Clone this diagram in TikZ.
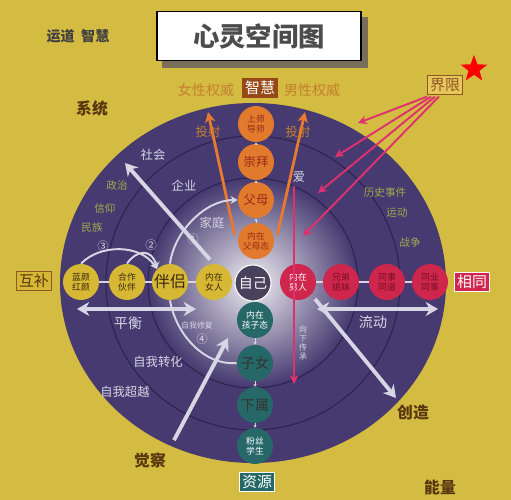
\documentclass[tikz,border=0pt]{standalone}
\usepackage{fontspec}
\newfontfamily\cjk{Noto Sans CJK SC}
\usetikzlibrary{arrows.meta,shapes.geometric}
\definecolor{bgyellow}{RGB}{212,187,66}
\definecolor{plate}{RGB}{70,58,112}
\definecolor{ringline}{RGB}{44,36,78}
\definecolor{paleline}{RGB}{214,214,228}
\definecolor{orbOrange}{RGB}{226,122,46}
\definecolor{orbOrangeText}{RGB}{150,45,25}
\definecolor{orbYellow}{RGB}{214,184,52}
\definecolor{orbYellowText}{RGB}{60,40,15}
\definecolor{orbRed}{RGB}{206,38,76}
\definecolor{orbRedText}{RGB}{120,15,35}
\definecolor{orbTeal}{RGB}{38,104,104}
\definecolor{selfgray}{RGB}{72,66,92}
\definecolor{greentext}{RGB}{160,170,78}
\definecolor{browntext}{RGB}{88,55,15}
\definecolor{tantext}{RGB}{196,128,48}
\definecolor{arrowOrange}{RGB}{232,122,48}
\definecolor{arrowPink}{RGB}{222,50,112}
\definecolor{wisebrown}{RGB}{150,72,22}
\definecolor{limitfill}{RGB}{232,198,92}
\definecolor{limitedge}{RGB}{140,88,38}
\definecolor{shadowgray}{RGB}{120,110,90}

\begin{document}
\begin{tikzpicture}[x=0.02cm, y=-0.02cm,
    every node/.style={font=\cjk},
    orb/.style={circle, minimum size=0.72cm, inner sep=0pt, align=center, font=\cjk\fontsize{5}{5.6}\selectfont},
    upnode/.style={orb, fill=orbOrange, text=orbOrangeText},
    leftnode/.style={orb, fill=orbYellow, text=orbYellowText},
    rightnode/.style={orb, fill=orbRed, text=orbRedText},
    downnode/.style={orb, fill=orbTeal, text=black!80},
    bigword/.style={font=\cjk\fontsize{8}{8}\selectfont},
    outerword/.style={font=\cjk\bfseries\fontsize{9}{9}\selectfont, text=browntext},
    paleword/.style={font=\cjk\fontsize{7}{7}\selectfont, text=paleline},
    greenword/.style={font=\cjk\fontsize{6}{6}\selectfont, text=greentext},
    tagbox/.style={rectangle, inner sep=1.5pt, line width=0.6pt, font=\cjk\fontsize{8.5}{8.5}\selectfont},
    link/.style={draw=paleline, line width=0.4pt, -{Stealth[length=1.5pt,width=1.8pt]}},
    bigarrow/.style={draw=paleline, line width=2.2pt, -{Stealth[length=7pt,width=8pt]}},
    thinarrow/.style={draw=paleline, line width=1.1pt, -{Stealth[length=4pt,width=4.5pt]}},
    orangearrow/.style={draw=arrowOrange, line width=1.6pt, -{Stealth[length=6pt,width=6pt]}},
    pinkarrow/.style={draw=arrowPink, line width=1.1pt, -{Stealth[length=5pt,width=5pt]}}]
    % background
    \useasboundingbox (0,0) rectangle (511,500);
    \fill[bgyellow] (0,0) rectangle (511,500);
    % title
    \node[draw=black, fill=white, line width=0.8pt, minimum width=4.08cm, minimum height=0.98cm,
          font=\cjk\bfseries\fontsize{15}{15}\selectfont, text=black!70] (title) at (259,36) {心灵空间图};
    \fill[shadowgray] ([shift={(6,0)}]title.south west) rectangle ([shift={(6,7)}]title.south east);
    \fill[shadowgray] ([shift={(0,6)}]title.north east) rectangle ([shift={(6,7)}]title.south east);
    \node[font=\cjk\bfseries\fontsize{8}{8}\selectfont, text=black!75] (brand) at (78,36) {运道\ \ 智慧};
    % plate and rings
    \fill[plate] (253,283) ellipse (193 and 180);
    \foreach \r in {62,105,147} \draw[ringline, line width=0.6pt] (253,283) circle (\r);
    \shade[inner color=white!92!plate, outer color=plate] (253,283) circle (104);
    % centre
    \node[orb, fill=selfgray, draw=white!70, line width=0.6pt, text=white, font=\cjk\fontsize{8}{8}\selectfont] (self) at (253,283) {自己};
    % upward: orange
    \node[upnode] (innerparent) at (256,241) {内在\\父母态};
    \node[upnode, font=\cjk\fontsize{7}{7}\selectfont] (parents) at (256,200) {父母};
    \node[upnode, font=\cjk\fontsize{7}{7}\selectfont] (worship) at (256,162) {崇拜};
    \node[upnode] (mentor) at (256,124) {上师\\导师};
    % left: yellow
    \node[leftnode] (innerwoman) at (214,282) {内在\\女人};
    \node[leftnode, font=\cjk\fontsize{9}{9}\selectfont] (partner) at (170,282) {伴侣};
    \node[leftnode] (cooperate) at (127,282) {合作\\伙伴};
    \node[leftnode] (confidant) at (81,282) {蓝颜\\红颜};
    % right: red
    \node[rightnode, text=white] (innerman) at (298,282) {内在\\男人};
    \node[rightnode] (siblings) at (341,282) {兄弟\\姐妹};
    \node[rightnode] (colleague) at (387,282) {同事\\同道};
    \node[rightnode] (peer) at (430,282) {同业\\同事};
    % downward: teal
    \node[downnode, text=white] (innerchild) at (255,320) {内在\\孩子态};
    \node[downnode, font=\cjk\fontsize{8}{8}\selectfont] (children) at (255,363) {子女};
    \node[downnode, font=\cjk\fontsize{8}{8}\selectfont] (subordinate) at (255,405) {下属};
    \node[downnode, text=white!85] (students) at (255,446) {粉丝\\学生};
    % small links
    \draw[link] (innerparent) -- (parents);
    \draw[link] (parents) -- (worship);
    \draw[link] (worship) -- (mentor);
    \draw[link] (innerchild) -- (children);
    \draw[link] (children) -- (subordinate);
    \draw[link] (subordinate) -- (students);
    \draw[paleline, line width=0.6pt] (innerwoman) -- (partner) (partner) -- (cooperate) (cooperate) -- (confidant);
    \draw[paleline, line width=0.6pt] (innerman) -- (siblings) (siblings) -- (colleague) (colleague) -- (peer);
    % tags round the plate
    \node[tagbox, fill=orbYellow, draw=limitedge, text=browntext] (complement) at (34,281) {互补};
    \node[tagbox, fill=orbRed, draw=white!60, text=white] (same) at (472,282) {相同};
    \node[tagbox, fill=wisebrown, text=white] (wisdom) at (260,88) {智慧};
    \node[tagbox, fill=orbTeal, draw=white!70, text=white] (resource) at (257,482) {资源};
    \node[tagbox, fill=limitfill, draw=limitedge, text=limitedge] (limit) at (445,85) {界限};
    \node[star, star points=5, star point ratio=2.4, fill=red, inner sep=0pt, minimum size=0.56cm] (mark) at (474,69) {};
    \node[bigword, text=tantext] (femaleauth) at (206,90) {女性权威};
    \node[bigword, text=tantext] (maleauth) at (312,90) {男性权威};
    \node[outerword] (system) at (92,108) {系统};
    \node[outerword] (aware) at (150,460) {觉察};
    \node[outerword] (create) at (413,412) {创造};
    \node[outerword] (energy) at (440,487) {能量};
    % words on the plate
    \node[paleword] (society) at (153,155) {社会};
    \node[paleword] (company) at (184,186) {企业};
    \node[paleword] (family) at (212,223) {家庭};
    \node[paleword] (love) at (299,177) {爱};
    \node[paleword, font=\cjk\fontsize{8}{8}\selectfont] (balance) at (128,323) {平衡};
    \node[paleword, font=\cjk\fontsize{8}{8}\selectfont] (flow) at (373,322) {流动};
    \node[paleword, font=\cjk\fontsize{4.5}{4.5}\selectfont] (selfrepair) at (197,325) {自我修复};
    \node[paleword] (transform) at (158,362) {自我转化};
    \node[paleword] (transcend) at (125,392) {自我超越};
    \node[paleword, font=\cjk\fontsize{4.5}{5}\selectfont, align=center] (passdown) at (303,343) {向\\下\\传\\承};
    \node[text=tantext, font=\cjk\fontsize{7}{7}\selectfont] (projleft) at (208,132) {投射};
    \node[text=tantext, font=\cjk\fontsize{7}{7}\selectfont] (projright) at (298,132) {投射};
    \node[greenword] (politics) at (117,185) {政治};
    \node[greenword] (belief) at (105,209) {信仰};
    \node[greenword] (nation) at (92,228) {民族};
    \node[greenword] (history) at (385,193) {历史事件};
    \node[greenword] (movement) at (397,213) {运动};
    \node[greenword] (war) at (410,242) {战争};
    \foreach \n/\t/\x/\y in {n1/①/193/239, n2/②/151/245, n3/③/103/246, n4/④/202/339}
        \node[text=paleline, font=\cjk\fontsize{6.5}{6.5}\selectfont] (\n) at (\x,\y) {\t};
    % orange projection arrows
    \coordinate (projtipL) at (208,112);
    \coordinate (projtipR) at (305,112);
    \draw[orangearrow] (innerparent.west) ++(-3,-6) -- (projtipL);
    \draw[orangearrow] (innerparent.east) ++(3,-6) -- (projtipR);
    % boundary arrows
    \foreach \tx/\ty [count=\i] in {358/123, 335/157, 318/193, 303/236}
        \draw[pinkarrow] ([xshift=\i*2.2pt-2pt, yshift=-1pt]limit.south west) -- (\tx,\ty);
    \coordinate (lovetip) at (294,384);
    \draw[pinkarrow, line width=1.4pt] (294,186) -- (lovetip);
    % pale arrows
    \coordinate (awaretip) at (228,338);
    \coordinate (systemtip) at (125,163);
    \coordinate (createtip) at (396,398);
    \draw[bigarrow] (aware.north east) ++(2,-6) -- (awaretip);
    \draw[bigarrow] (innerwoman.north) ++(-4,-4) -- (systemtip);
    \draw[bigarrow] (innerman.south east) ++(4,4) -- (createtip);
    \coordinate (balL) at (77,309);
    \coordinate (balR) at (196,309);
    \coordinate (flowL) at (317,309);
    \coordinate (flowR) at (438,309);
    \draw[bigarrow, {Stealth[length=7pt,width=8pt]}-{Stealth[length=7pt,width=8pt]}] (balL) -- (balR);
    \draw[bigarrow, {Stealth[length=7pt,width=8pt]}-{Stealth[length=7pt,width=8pt]}] (flowL) -- (flowR);
    % curves into the partner
    \draw[thinarrow] (confidant.north) .. controls (100,244) and (140,244) .. (partner.north west);
    \draw[thinarrow] (cooperate.north) .. controls (136,250) and (152,248) .. (partner.north west);
    \draw[thinarrow] (partner.north) .. controls (174,232) and (205,200) .. (parents.west);
    \draw[paleline, line width=1.1pt] (partner.south) .. controls (176,335) and (205,366) .. (children.west);
\end{tikzpicture}
\end{document}
